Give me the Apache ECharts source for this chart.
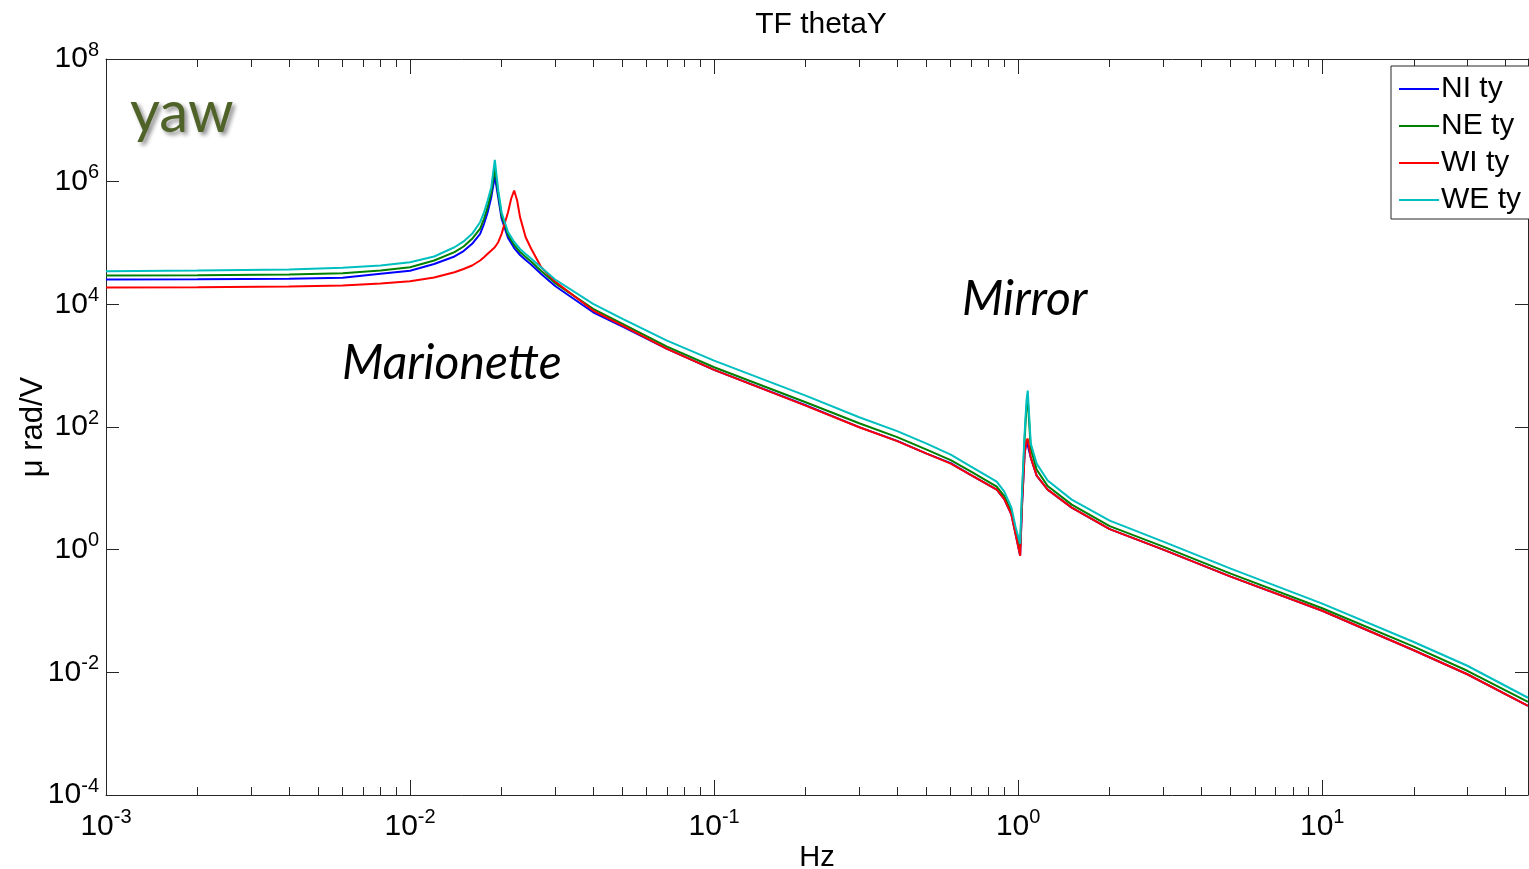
<!DOCTYPE html>
<html><head><meta charset="utf-8">
<script src="https://cdn.jsdelivr.net/npm/echarts@6/dist/echarts.min.js"></script>
<style>html,body{margin:0;padding:0;background:#fff}#c{width:1529px;height:869px}</style>
</head><body><div id="c"></div>
<script>
// Frequency points (Hz)
const freq = [0.001,0.002,0.004,0.006,0.008,0.01,0.012,0.014,0.015,0.016,0.017,0.0175,
  0.018,0.0185,0.019,0.0195,0.02,0.021,0.0215,0.022,0.0225,0.023,0.024,
  0.025,0.027,0.03,0.04,0.05,0.07,0.1,0.2,0.3,0.4,0.5,0.6,0.7,
  0.85,0.9,0.95,0.98,1.015,1.03,1.05,1.065,1.075,1.1,1.15,
  1.25,1.5,2,3,5,10,20,30,47.5];
// Magnitudes (µrad/V)
const niTy = [2.54e4,2.57e4,2.61e4,2.71e4,3.15e4,3.52e4,4.54e4,6.03e4,7.40e4,9.70e4,1.41e5,2.04e5,
  3.18e5,5.58e5,1.22e6,5.52e5,2.51e5,1.21e5,1.00e5,8.28e4,7.26e4,6.37e4,5.28e4,
  4.46e4,3.12e4,1.99e4,7430,4340,1880,854,226,99.5,59.5,36.8,25.8,16.4,
  9.52,6.66,3.72,1.82,0.798,5.56,36.4,60.0,64.0,31.7,16.1,
  9.52,4.84,2.16,1.0,0.363,0.101,0.0229,0.00931,0.00285];
const neTy = [2.95e4,2.99e4,3.06e4,3.21e4,3.56e4,4.03e4,5.18e4,7.08e4,8.77e4,1.17e5,1.71e5,2.46e5,
  3.84e5,6.74e5,1.64e6,6.42e5,2.81e5,1.35e5,1.12e5,9.27e4,8.13e4,7.13e4,5.91e4,
  4.99e4,3.49e4,2.22e4,8440,4810,2050,942,253,115,68.4,42.8,28.8,18.7,
  10.7,7.46,4.17,2.12,1.12,7.89,64.7,215,290,44.4,20.2,
  10.9,5.42,2.42,1.12,0.406,0.111,0.0262,0.0106,0.00331];
const wiTy = [1.88e4,1.90e4,1.95e4,2.03e4,2.18e4,2.38e4,2.74e4,3.34e4,3.77e4,4.30e4,5.18e4,5.85e4,
  6.67e4,7.55e4,8.53e4,1.03e5,1.41e5,3.18e5,5.26e5,7.18e5,4.93e5,2.64e5,1.24e5,
  8.13e4,4.03e4,2.35e4,7920,4510,1880,854,223,98.9,58.9,36.8,25.3,16.4,
  9.52,6.66,3.72,1.82,0.798,5.56,36.4,60.0,64.7,31.7,16.1,
  9.52,4.84,2.16,1.0,0.363,0.101,0.0229,0.00931,0.00285];
const weTy = [3.47e4,3.56e4,3.70e4,3.94e4,4.30e4,4.86e4,6.03e4,8.53e4,1.06e5,1.41e5,2.18e5,3.14e5,
  4.93e5,8.13e5,2.26e6,7.18e5,3.14e5,1.51e5,1.25e5,1.04e5,9.10e4,7.98e4,6.62e4,
  5.58e4,3.98e4,2.54e4,1.02e4,5790,2560,1210,325,144,85.7,53.6,35.5,22.6,
  12.9,8.83,4.84,2.37,1.25,9.17,78.0,270,393,53.6,25.3,
  13.4,6.54,2.97,1.35,0.490,0.1316,0.0312,0.0128,0.00385];
const seriesNames = ['NI ty','NE ty','WI ty','WE ty'];
const seriesColors = ['#0000ff','#008000','#ff0000','#00bfbf'];
const xMajorTicks = [0.001,0.01,0.1,1,10];
const xMinorTicks = [0.002,0.003,0.004,0.005,0.006,0.007,0.008,0.009,
  0.02,0.03,0.04,0.05,0.06,0.07,0.08,0.09,
  0.2,0.3,0.4,0.5,0.6,0.7,0.8,0.9,
  2,3,4,5,6,7,8,9,20,30,40];
const yMajorTicks = [1e-4,1e-2,1,1e2,1e4,1e6,1e8];
const xMin = 0.001, xMax = 47.5, yMin = 1e-4, yMax = 1e8;

const FONT = 'Liberation Sans';
const AX = '#262626';
function sup(v){ const e = Math.round(Math.log10(v)); return '{b|10}{s|' + e + '}'; }
const richX = {
  b: {fontFamily: FONT, fontSize: 30, lineHeight: 30, color: '#000'},
  s: {fontFamily: FONT, fontSize: 20, lineHeight: 20, padding: [0,0,20,0], color: '#000'}
};
const richY = {
  b: {fontFamily: FONT, fontSize: 30, lineHeight: 30, color: '#000'},
  s: {fontFamily: FONT, fontSize: 20, lineHeight: 20, padding: [0,0,18,0], color: '#000'}
};
function xAx(pos, major, labels){
  return {
    type: 'log', logBase: 10, min: xMin, max: xMax, gridIndex: 0, position: pos,
    splitLine: {show: false}, minorTick: {show: false}, minorSplitLine: {show: false},
    axisLine: {show: major, onZero: false, lineStyle: {color: AX, width: 1}},
    axisTick: {show: true, inside: true, length: major ? 15 : 8,
      customValues: major ? xMajorTicks : xMinorTicks, lineStyle: {color: AX, width: 1}},
    axisLabel: labels ? {show: true, customValues: xMajorTicks, formatter: sup, rich: richX, margin: 17} : {show: false},
    name: labels ? 'Hz' : '', nameLocation: 'middle', nameGap: 48, nameMoveOverlap: false,
    nameTextStyle: {fontFamily: FONT, fontSize: 29, color: '#000'}
  };
}
function yAx(pos, labels){
  return {
    type: 'log', logBase: 10, min: yMin, max: yMax, gridIndex: 0, position: pos,
    splitLine: {show: false}, minorTick: {show: false}, minorSplitLine: {show: false},
    axisLine: {show: true, onZero: false, lineStyle: {color: AX, width: 1}},
    axisTick: {show: true, inside: true, length: 13, customValues: yMajorTicks, lineStyle: {color: AX, width: 1}},
    axisLabel: labels ? {show: true, customValues: yMajorTicks, formatter: sup, rich: richY, margin: 7} : {show: false},
    name: labels ? 'μ rad/V' : '', nameLocation: 'middle', nameRotate: 90, nameGap: 57, nameMoveOverlap: false,
    nameTextStyle: {fontFamily: FONT, fontSize: 31, color: '#000'}
  };
}
const allY = [niTy, neTy, wiTy, weTy];
const chart = echarts.init(document.getElementById('c'), null, {renderer: 'canvas'});
chart.setOption({
  animation: false,
  backgroundColor: '#fff',
  title: {text: 'TF thetaY', left: 816, textAlign: 'center', top: 5,
    textStyle: {fontFamily: FONT, fontSize: 30, fontWeight: 'normal', color: '#000'}},
  grid: {left: 106, right: 1, top: 59, bottom: 74, containLabel: false, outerBoundsMode: 'none'},
  xAxis: [xAx('bottom', true, true), xAx('bottom', false, false), xAx('top', true, false), xAx('top', false, false)],
  yAxis: [yAx('left', true), yAx('right', false)],
  legend: {
    orient: 'vertical', left: 1391, top: 66, data: seriesNames, icon: 'rect',
    itemWidth: 40, itemHeight: 2, itemGap: 7, padding: [8, 14, 4, 8], selectedMode: false,
    borderColor: AX, borderWidth: 1, backgroundColor: '#fff',
    textStyle: {fontFamily: FONT, fontSize: 30, lineHeight: 30, color: '#000', padding: [0,0,0,-3]}
  },
  graphic: [
    {type: 'text', left: 130, top: 84, style: {text: 'yaw', font: '58px Lato', fill: '#4f6228',
      textShadowColor: 'rgba(0,0,0,0.45)', textShadowBlur: 4, textShadowOffsetX: 3, textShadowOffsetY: 3}},
    {type: 'text', left: 342, top: 340, style: {text: 'Marionette', font: 'italic 48px Lato', fill: '#000'}},
    {type: 'text', left: 962, top: 276, style: {text: 'Mirror', font: 'italic 48px Lato', fill: '#000'}}
  ],
  series: seriesNames.map((n, i) => ({
    name: n, type: 'line', xAxisIndex: 0, yAxisIndex: 0, symbol: 'none', showSymbol: false,
    lineStyle: {color: seriesColors[i], width: 2}, itemStyle: {color: seriesColors[i]},
    data: freq.map((f, k) => [f, allY[i][k]])
  }))
});
</script></body></html>
